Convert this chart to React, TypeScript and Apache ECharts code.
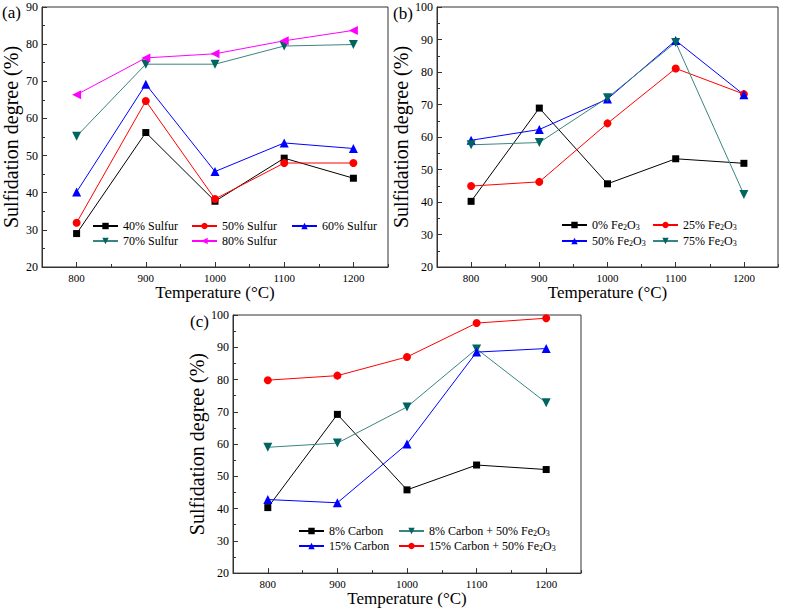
import React, { useEffect, useRef } from "react";
import * as echarts from "echarts";

const temps = [800, 900, 1000, 1100, 1200];
const xTicks = [800, 900, 1000, 1100, 1200];

// Panel (a)
const sulfur40 = [29.0, 56.2, 37.7, 49.3, 43.9];
const sulfur50 = [31.9, 64.7, 38.3, 48.0, 48.0];
const sulfur60 = [40.2, 69.2, 45.7, 53.4, 51.9];
const sulfur70 = [55.2, 74.6, 74.6, 79.5, 79.9];
const sulfur80 = [66.4, 76.3, 77.4, 80.9, 83.7];

// Panel (b)
const fe0 = [40.2, 68.9, 45.6, 53.3, 51.9];
const fe25 = [44.9, 46.2, 64.2, 81.1, 73.2];
const fe50 = [59.0, 62.3, 71.7, 89.7, 73.0];
const fe75 = [57.6, 58.3, 72.1, 89.1, 42.3];

// Panel (c)
const carbon8 = [40.3, 69.2, 45.8, 53.5, 52.1];
const carbon15 = [42.8, 41.8, 60.0, 88.5, 89.6];
const carbon8Fe = [59.0, 60.3, 71.5, 89.5, 72.8];
const carbon15Fe = [79.8, 81.2, 87.0, 97.5, 99.0];

const FONT = "'Liberation Serif', 'Times New Roman', serif";
const BLACK = "#000000";
const RED = "#ff0000";
const BLUE = "#0000ff";
const TEAL = "#006560";
const TEAL_LINE = "#3a8580";
const MAGENTA = "#ff00ff";

const toPairs = (arr: number[]) => temps.map((t, i) => [t, arr[i]]);

function App() {
  const ref = useRef<HTMLDivElement>(null);

  useEffect(() => {
    if (!ref.current) return;
    const chart = echarts.init(ref.current, undefined, { renderer: "svg" });

    const grids = [
      { left: 39, top: 7, width: 349, height: 260 },
      { left: 437, top: 7, width: 341, height: 260 },
      { left: 233, top: 315, width: 348, height: 259 },
    ];
    const yRanges = [
      [20, 90],
      [20, 100],
      [20, 100],
    ];

    const xAxes: any[] = [];
    const yAxes: any[] = [];
    grids.forEach((_, g) => {
      xAxes.push({
        gridIndex: g,
        type: "value",
        min: 750,
        max: 1250,
        interval: 50,
        name: "Temperature (°C)",
        nameLocation: "middle",
        nameGap: 16,
        nameTextStyle: { fontFamily: FONT, fontSize: 17, color: BLACK },
        axisLine: { show: true, lineStyle: { color: "#333", width: 1 } },
        axisTick: { show: true, inside: true, length: 3, lineStyle: { color: "#333" } },
        axisLabel: {
          fontFamily: FONT,
          fontSize: 11,
          color: BLACK,
          margin: 5,
          formatter: (v: number) => (v % 100 === 0 && v >= 800 && v <= 1200 ? String(v) : ""),
        },
        splitLine: { show: false },
      });
      xAxes.push({
        gridIndex: g,
        type: "value",
        min: 750,
        max: 1250,
        position: "bottom",
        axisLine: { show: false },
        axisTick: { show: true, inside: true, length: 5, customValues: xTicks, lineStyle: { color: "#333" } },
        axisLabel: { show: false },
        splitLine: { show: false },
      });
      yAxes.push({
        gridIndex: g,
        type: "value",
        min: yRanges[g][0],
        max: yRanges[g][1],
        interval: 10,
        name: "Sulfidation degree (%)",
        nameLocation: "middle",
        nameGap: 21,
        nameTextStyle: { fontFamily: FONT, fontSize: 20, color: BLACK },
        axisLine: { show: true, lineStyle: { color: "#333", width: 1 } },
        axisTick: { show: true, inside: true, length: 5, lineStyle: { color: "#333" } },
        minorTick: { show: true, splitNumber: 2, length: 3, lineStyle: { color: "#333" } },
        axisLabel: { fontFamily: FONT, fontSize: 12, color: BLACK, margin: 4 },
        splitLine: { show: false },
        minorSplitLine: { show: false },
      });
    });

    const mk = (
      name: string,
      g: number,
      data: number[],
      color: string,
      symbol: string,
      size: number,
      rotate = 0,
      lineColor?: string
    ) => ({
      name,
      type: "line",
      xAxisIndex: g * 2,
      yAxisIndex: g,
      data: toPairs(data),
      symbol,
      symbolSize: size,
      symbolRotate: rotate,
      itemStyle: { color },
      lineStyle: { color: lineColor || color, width: 1 },
      z: 3,
    });

    const series = [
      mk("40% Sulfur", 0, sulfur40, BLACK, "rect", 7),
      mk("50% Sulfur", 0, sulfur50, RED, "circle", 8),
      mk("60% Sulfur", 0, sulfur60, BLUE, "triangle", 9),
      mk("70% Sulfur", 0, sulfur70, TEAL, "triangle", 9, 180, TEAL_LINE),
      mk("80% Sulfur", 0, sulfur80, MAGENTA, "triangle", 9, 90),
      mk("0% Fe2O3", 1, fe0, BLACK, "rect", 7),
      mk("25% Fe2O3", 1, fe25, RED, "circle", 8),
      mk("50% Fe2O3", 1, fe50, BLUE, "triangle", 9),
      mk("75% Fe2O3", 1, fe75, TEAL, "triangle", 9, 180, TEAL_LINE),
      mk("8% Carbon", 2, carbon8, BLACK, "rect", 7),
      mk("8% Carbon + 50% Fe2O3", 2, carbon8Fe, TEAL, "triangle", 9, 180, TEAL_LINE),
      mk("15% Carbon", 2, carbon15, BLUE, "triangle", 9),
      mk("15% Carbon + 50% Fe2O3", 2, carbon15Fe, RED, "circle", 8),
    ];

    const legendItem = (name: string, left: number, cy: number) => ({
      data: [name],
      left,
      top: cy - 7,
      orient: "horizontal",
      padding: 0,
      itemWidth: 25,
      itemHeight: 8,
      selectedMode: false,
      formatter: (n: string) => n.replace("Fe2O3", "Fe{s|2}O{s|3}"),
      textStyle: {
        fontFamily: FONT,
        fontSize: 12,
        color: BLACK,
        rich: {
          s: { fontFamily: FONT, fontSize: 8, color: BLACK, verticalAlign: "bottom", padding: [3, 0, 0, 0] },
        },
      },
    });

    const legends = [
      legendItem("40% Sulfur", 92, 227),
      legendItem("50% Sulfur", 191, 227),
      legendItem("60% Sulfur", 291, 227),
      legendItem("70% Sulfur", 92, 242),
      legendItem("80% Sulfur", 191, 242),
      legendItem("0% Fe2O3", 561, 226),
      legendItem("25% Fe2O3", 652, 226),
      legendItem("50% Fe2O3", 561, 242),
      legendItem("75% Fe2O3", 652, 242),
      legendItem("8% Carbon", 298, 532),
      legendItem("8% Carbon + 50% Fe2O3", 398, 532),
      legendItem("15% Carbon", 298, 547),
      legendItem("15% Carbon + 50% Fe2O3", 398, 547),
    ];

    chart.setOption({
      animation: false,
      textStyle: { fontFamily: FONT },
      grid: grids.map((g) => ({ ...g, show: true, borderColor: "#333", borderWidth: 1, backgroundColor: "transparent" })),
      xAxis: xAxes,
      yAxis: yAxes,
      legend: legends,
      series,
      graphic: [
        { type: "text", left: 2, top: 4, style: { text: "(a)", fontFamily: FONT, fontSize: 17, fill: BLACK } },
        { type: "text", left: 393, top: 5, style: { text: "(b)", fontFamily: FONT, fontSize: 17, fill: BLACK } },
        { type: "text", left: 190, top: 313, style: { text: "(c)", fontFamily: FONT, fontSize: 17, fill: BLACK } },
      ],
    });

    return () => chart.dispose();
  }, []);

  return (
    <div
      ref={ref}
      style={{ position: "absolute", left: 0, top: 0, width: 787, height: 608, background: "#fff" }}
    />
  );
}

export default App;
